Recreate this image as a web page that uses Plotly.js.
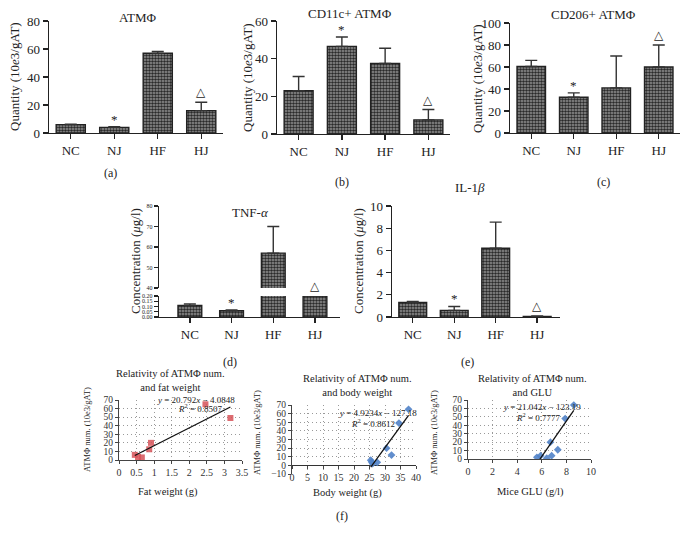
<!DOCTYPE html>
<html><head><meta charset="utf-8">
<script src="https://cdn.plot.ly/plotly-3.0.1.min.js"></script>
<style>html,body{margin:0;padding:0;background:#fff;}#chart{width:687px;height:542px;}</style>
</head><body><div id="chart"></div>
<script>
// ---- data ----
const groups = ['NC', 'NJ', 'HF', 'HJ'];
const sigMarks = ['', '*', '', '△'];
const atmMean = [6, 4, 57, 16];
const atmErr = [0.3, 0.5, 1.3, 6];
const cd11cMean = [23, 46.5, 37.5, 7.5];
const cd11cErr = [7.5, 5, 8, 5.5];
const cd206Mean = [60.5, 32.5, 41, 60];
const cd206Err = [5.5, 4, 29, 20];
const tnfMean = [0.11, 0.06, 57, 0.2];
const tnfErr = [0.015, 0.006, 13, 0];
const il1bMean = [1.3, 0.6, 6.2, 0.05];
const il1bErr = [0.1, 0.35, 2.35, 0.05];

const fatWeight = [0.45, 0.54, 0.65, 0.86, 0.91, 2.46, 3.17];
const fatATM = [6, 3.5, 3, 12.5, 20, 65, 49];
const fatFit = {m: 20.792, b: -4.0848, r2: '0.8507', eq: '20.792<i>x</i> − 4.0848'};

const bodyWeight = [25.4, 25.7, 26.0, 27.5, 30.5, 32.1, 34.5, 37.6];
const bodyATM = [6, 4, 2, 3.5, 20, 12, 49, 65];
const bodyFit = {m: 4.9234, b: -127.18, r2: '0.8612', eq: '4.9234<i>x</i> − 127.18'};

const miceGLU = [5.6, 5.9, 6.4, 6.8, 6.7, 7.3, 7.9, 8.6];
const gluATM = [2, 4, 1, 4, 20, 11, 48, 64];
const gluFit = {m: 21.042, b: -123.19, r2: '0.7777', eq: '21.042<i>x</i> − 123.19'};

// ---- helpers ----
const W = 687, H = 542;
const xd = (a, b) => [a / W, b / W];
const yd = (top, bot) => [1 - bot / H, 1 - top / H];
const PX = x => x / W, PY = y => 1 - y / H;
const SERIF = 'Liberation Serif, Times New Roman, serif';
const INK = '#222';

function barTrace(vals, errs, xa, ya, w) {
  return {
    type: 'bar', x: groups, y: vals, xaxis: xa, yaxis: ya, width: w,
    marker: {color: '#808080', line: {color: INK, width: 1.4},
      pattern: {shape: '.', fgcolor: '#2a2a2a', bgcolor: '#959595', size: 3, solidity: 0.55}},
    error_y: {type: 'data', symmetric: false, array: errs, arrayminus: errs.map(() => 0),
      visible: true, color: '#333', thickness: 1.4, width: 6},
    hoverinfo: 'none', showlegend: false, cliponaxis: true
  };
}
function barY(dom, range, dtick, fs, anchor) {
  return {domain: dom, range: range, dtick: dtick, anchor: anchor, showline: true, linecolor: INK, linewidth: 1.4,
    ticks: 'outside', ticklen: 5, tickwidth: 1.4, tickcolor: INK, showgrid: false, zeroline: false,
    tickfont: {family: SERIF, size: fs, color: INK}, fixedrange: true};
}
function barX(dom, range, anchor) {
  return {domain: dom, range: range, anchor: anchor, type: 'category', showline: true, linecolor: INK,
    linewidth: 1.4, ticks: 'outside', ticklen: 5, tickwidth: 1.4, tickcolor: INK, showgrid: false,
    tickfont: {family: SERIF, size: 13, color: INK}, fixedrange: true};
}
function scX(dom, range, dtick, anchor, showline) {
  return {domain: dom, range: range, dtick: dtick, anchor: anchor, showline: showline, linecolor: '#444',
    linewidth: 1, ticks: 'outside', ticklen: 3, tickcolor: '#444', showgrid: true, gridcolor: '#999',
    griddash: '1px,3px', gridwidth: 1, zeroline: false, tickfont: {family: SERIF, size: 10, color: '#333'}, fixedrange: true};
}
function scY(dom, range, dtick, anchor, zl) {
  return {domain: dom, range: range, dtick: dtick, anchor: anchor, showline: true, linecolor: '#444',
    linewidth: 1, ticks: 'outside', ticklen: 3, tickcolor: '#444', showgrid: true, gridcolor: '#999',
    griddash: '1px,3px', gridwidth: 1, zeroline: zl, zerolinecolor: '#333', zerolinewidth: 1.2,
    tickfont: {family: SERIF, size: 9.5, color: '#333'}, fixedrange: true};
}
function scatterPts(x, y, xa, ya, sym, col) {
  return {type: 'scatter', mode: 'markers', x: x, y: y, xaxis: xa, yaxis: ya,
    marker: {symbol: sym, size: 6, color: col}, hoverinfo: 'none', showlegend: false};
}
function fitLine(x, fit, xa, ya) {
  const x0 = Math.min(...x), x1 = Math.max(...x);
  return {type: 'scatter', mode: 'lines', x: [x0, x1], y: [fit.m * x0 + fit.b, fit.m * x1 + fit.b],
    xaxis: xa, yaxis: ya, line: {color: '#111', width: 1.3}, hoverinfo: 'none', showlegend: false};
}

// ---- traces ----
const data = [
  barTrace(atmMean, atmErr, 'x', 'y', 0.67),
  barTrace(cd11cMean, cd11cErr, 'x2', 'y2', 0.67),
  barTrace(cd206Mean, cd206Err, 'x3', 'y3', 0.67),
  barTrace(tnfMean, tnfErr.map((e, i) => tnfMean[i] < 1 ? e : 0), 'x4', 'y4', 0.57),
  barTrace(tnfMean, tnfErr, 'x4', 'y5', 0.57),
  barTrace(il1bMean, il1bErr, 'x6', 'y6', 0.67),
  scatterPts(fatWeight, fatATM, 'x7', 'y7', 'square', 'rgba(214,82,88,0.85)'),
  fitLine(fatWeight, fatFit, 'x7', 'y7'),
  scatterPts(bodyWeight, bodyATM, 'x8', 'y8', 'diamond', 'rgba(80,130,200,0.9)'),
  fitLine(bodyWeight, bodyFit, 'x8', 'y8'),
  scatterPts(miceGLU, gluATM, 'x9', 'y9', 'diamond', 'rgba(80,130,200,0.9)'),
  fitLine(miceGLU, gluFit, 'x9', 'y9')
];

// ---- annotations ----
const ann = [];
function txt(x, y, text, size, opts) {
  ann.push(Object.assign({xref: 'paper', yref: 'paper', x: PX(x), y: PY(y), text: text, showarrow: false,
    xanchor: 'center', yanchor: 'middle', font: {family: SERIF, size: size, color: INK}}, opts || {}));
}
function sig(means, errs, xa, ya) {
  groups.forEach((g, i) => {
    if (!sigMarks[i]) return;
    ann.push({xref: xa, yref: ya, x: g, y: means[i] + errs[i], text: sigMarks[i], showarrow: false,
      yanchor: 'bottom', yshift: sigMarks[i] === '*' ? -2 : 1,
      font: {family: sigMarks[i] === '*' ? SERIF : 'DejaVu Sans', size: sigMarks[i] === '*' ? 13 : 12, color: INK}});
  });
}
sig(atmMean, atmErr, 'x', 'y');
sig(cd11cMean, cd11cErr, 'x2', 'y2');
sig(cd206Mean, cd206Err, 'x3', 'y3');
sig(tnfMean, tnfErr, 'x4', 'y4');
sig(il1bMean, il1bErr, 'x6', 'y6');

const qTitle = 'Quantity (10<i>e</i>3/gAT)';
const cTitle = 'Concentration (<i>μ</i>g/l)';
txt(137, 18, 'ATMΦ', 13);
txt(350, 14, 'CD11c+ ATMΦ', 13);
txt(593, 15, 'CD206+ ATMΦ', 13);
txt(250, 212, 'TNF-<i>α</i>', 13);
txt(470, 188, 'IL-1<i>β</i>', 13);
txt(15, 77, qTitle, 13, {textangle: -90});
txt(247, 78, qTitle, 13, {textangle: -90});
txt(477, 78, qTitle, 13, {textangle: -90});
txt(135, 261, cTitle, 13, {textangle: -90});
txt(358, 261, cTitle, 13, {textangle: -90});
txt(110, 173, '(a)', 12);
txt(342, 182, '(b)', 12);
txt(603, 182, '(c)', 12);
txt(230, 362, '(d)', 12);
txt(467, 362, '(e)', 12);
txt(342, 516, '(f)', 12);

txt(170, 380, 'Relativity of ATMΦ num.<br>and fat weight', 10.5);
txt(357, 385, 'Relativity of ATMΦ num.<br>and body weight', 10.5);
txt(532, 385, 'Relativity of ATMΦ num.<br>and GLU', 10.5);
txt(168, 492, 'Fat weight (g)', 10.5);
txt(347, 493, 'Body weight (g)', 10.5);
txt(530, 492, 'Mice GLU (g/l)', 10.5);
const sTitle = 'ATMΦ num. (10e3/gAT)';
txt(87, 430, sTitle, 8.5, {textangle: -90});
txt(257, 433, sTitle, 8.5, {textangle: -90});
txt(434, 433, sTitle, 8.5, {textangle: -90});
txt(196, 400, '<i>y</i> = ' + fatFit.eq, 9);
txt(200, 408, '<i>R</i><sup>2</sup> = ' + fatFit.r2, 9);
txt(378, 413, '<i>y</i> = ' + bodyFit.eq, 9);
txt(373, 423, '<i>R</i><sup>2</sup> = ' + bodyFit.r2, 9);
txt(542, 407, '<i>y</i> = ' + gluFit.eq, 9);
txt(538, 417, '<i>R</i><sup>2</sup> = ' + gluFit.r2, 9);

const layout = {
  width: W, height: H, margin: {l: 0, r: 0, t: 0, b: 0},
  paper_bgcolor: '#fff', plot_bgcolor: 'rgba(0,0,0,0)', showlegend: false, bargap: 0.3,
  font: {family: SERIF, color: INK},
  xaxis: barX(xd(49, 223), [-0.5, 3.5], 'y'),
  yaxis: barY(yd(21, 133), [0, 80], 20, 13, 'x'),
  xaxis2: barX(xd(277, 450), [-0.5, 3.5], 'y2'),
  yaxis2: barY(yd(21, 134), [0, 60], 20, 13, 'x2'),
  xaxis3: barX(xd(510, 680), [-0.5, 3.5], 'y3'),
  yaxis3: barY(yd(23, 133), [0, 100], 20, 13, 'x3'),
  xaxis4: barX(xd(159, 340), [-0.74, 3.6], 'y4'),
  yaxis4: Object.assign(barY(yd(296, 317), [0, 0.2], 0.05, 6, 'x4'), {tickformat: '.2f', ticklen: 4}),
  yaxis5: Object.assign(barY(yd(206, 288), [40, 80], 10, 6, 'x4'), {ticklen: 4}),
  xaxis6: barX(xd(392, 560), [-0.5, 3.55], 'y6'),
  yaxis6: barY(yd(206, 317), [0, 10], 2, 13, 'x6'),
  xaxis7: scX(xd(119, 242), [0, 3.5], 0.5, 'y7', true),
  yaxis7: scY(yd(400, 460), [0, 70], 10, 'x7', false),
  xaxis8: Object.assign(scX(xd(292, 416), [0, 40], 5, 'free', false), {position: PY(465)}),
  yaxis8: scY(yd(405, 474), [-10, 70], 10, 'x8', true),
  xaxis9: scX(xd(468, 591), [0, 10], 2, 'y9', true),
  yaxis9: scY(yd(400, 459), [0, 70], 10, 'x9', false),
  annotations: ann
};
Plotly.newPlot('chart', data, layout, {staticPlot: true, displayModeBar: false});
</script></body></html>
